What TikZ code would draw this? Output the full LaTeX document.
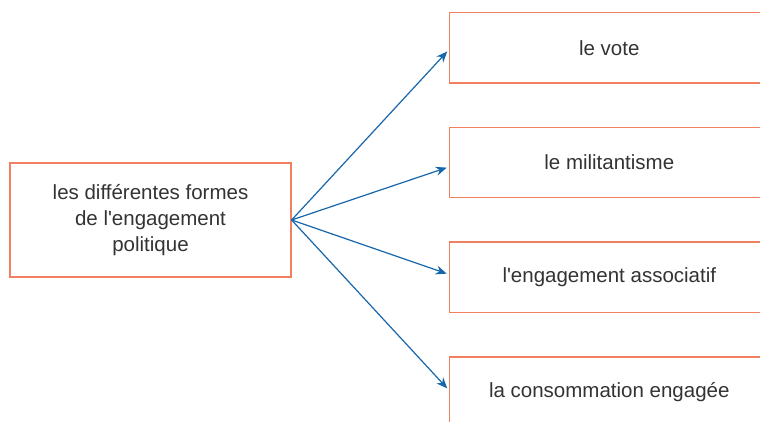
\documentclass[tikz,border=0pt]{standalone}
\usepackage{fontspec}
\setmainfont{Liberation Sans}
\usepackage{tikz}
\usetikzlibrary{arrows.meta,positioning}
\definecolor{boxline}{RGB}{240,128,96}
\definecolor{arrowblue}{RGB}{22,102,172}
\definecolor{textgray}{RGB}{51,51,51}
\tikzstyle{block} = [rectangle, draw=boxline, line width=1.3pt, text=textgray, text centered, inner sep=0pt]
\tikzstyle{form} = [block, minimum width=281pt, minimum height=114pt, align=center]
\tikzstyle{leaf} = [block, minimum width=320pt, minimum height=70.5pt]
\tikzstyle{link} = [draw=arrowblue, line width=1.2pt, -{Stealth[length=11pt,width=9pt]}, shorten >=2pt]

\begin{document}
\begin{tikzpicture}[x=1pt, y=-1pt, node distance=43pt, font=\fontsize{20.5}{26}\selectfont]
    \clip (0,0) rectangle (760,422);
    \node[form] (forms) at (150.5,220) {les différentes formes\\de l\textquotesingle engagement\\politique};
    \node[leaf] (vote) at (609.3,47.7) {le vote};
    \node[leaf, below=of vote] (milit) {le militantisme};
    \node[leaf, below=of milit] (assoc) {l\textquotesingle engagement associatif};
    \node[leaf, below=of assoc] (conso) {la consommation engagée};

    \draw[link] (forms.east) -- ([yshift=-2.3pt]vote.west);
    \draw[link] (forms.east) -- ([yshift=-4.5pt]milit.west);
    \draw[link] (forms.east) -- ([yshift=3pt]assoc.west);
    \draw[link] (forms.east) -- ([yshift=2.2pt]conso.west);
\end{tikzpicture}
\end{document}
